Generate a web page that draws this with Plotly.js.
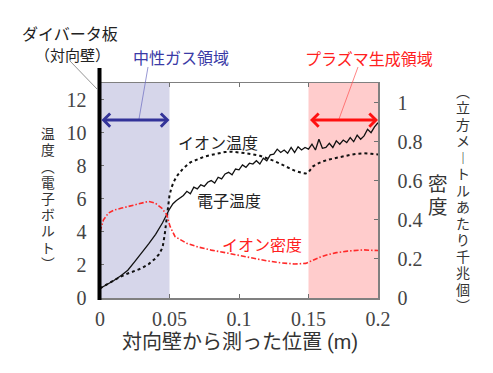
<!DOCTYPE html>
<html>
<head>
<meta charset="utf-8">
<script src="https://cdn.plot.ly/plotly-3.0.1.min.js"></script>
<style>html,body{margin:0;padding:0;background:#fff;}#chart{width:493px;height:373px;}</style>
</head>
<body>
<div id="chart"></div>
<script>
// ---- data ----
const xTe = [0,0.005,0.01,0.015,0.02,0.025,0.03,0.035,0.04,0.045,0.05,0.0525,0.055,0.0575,0.06,0.0625,0.065,0.0675,0.07,0.0725,0.075,0.0775,0.08,0.0825,0.085,0.0875,0.09,0.0925,0.095,0.0975,0.1,0.1025,0.105,0.1075,0.11,0.1125,0.115,0.1175,0.12,0.1225,0.125,0.1275,0.13,0.1325,0.135,0.1375,0.14,0.1425,0.145,0.1475,0.15,0.1525,0.155,0.1575,0.16,0.1625,0.165,0.1675,0.17,0.1725,0.175,0.1775,0.18,0.1825,0.185,0.1875,0.19,0.1925,0.195,0.1975,0.2];
const electronTemp = [0.58,0.8,1.06,1.35,1.68,2.2,2.7,3.27,3.85,4.55,5.38,5.7,5.9,6.05,6.2,6.45,6.3,6.7,6.6,6.85,6.75,7.0,7.1,6.95,7.3,7.2,7.5,7.6,7.45,7.8,7.75,8.05,7.9,8.15,8.1,8.3,8.1,8.45,8.3,8.65,8.7,9.0,8.8,8.95,8.75,9.1,8.8,9.15,8.95,9.1,9.0,9.3,8.95,9.6,9.05,9.1,9.35,9.1,9.5,9.3,9.55,9.4,9.7,9.45,9.85,9.6,9.8,10.2,10.0,10.35,10.6];
const xTi = [0,0.005,0.01,0.015,0.02,0.025,0.03,0.035,0.04,0.0425,0.045,0.0465,0.0475,0.0485,0.05,0.0515,0.0535,0.056,0.06,0.065,0.07,0.075,0.08,0.085,0.09,0.095,0.1,0.105,0.11,0.115,0.12,0.125,0.13,0.135,0.14,0.145,0.148,0.15,0.153,0.156,0.16,0.165,0.17,0.175,0.18,0.185,0.19,0.195,0.2];
const ionTemp = [0.58,0.82,1.07,1.3,1.48,1.64,1.8,2.05,2.4,2.65,3.05,3.8,4.5,5.3,6.2,6.7,7.1,7.45,7.85,8.2,8.4,8.55,8.65,8.75,8.83,8.85,8.82,8.75,8.68,8.6,8.45,8.3,8.1,7.9,7.7,7.57,7.53,7.6,7.95,8.1,8.25,8.38,8.48,8.57,8.65,8.72,8.75,8.72,8.68];
const xNi = [0,0.001,0.0025,0.006,0.01,0.0156,0.02,0.0252,0.03,0.0348,0.0396,0.0444,0.048,0.0504,0.054,0.06,0.0624,0.07,0.08,0.09,0.1,0.11,0.12,0.13,0.14,0.148,0.152,0.158,0.163,0.17,0.178,0.185,0.19,0.195,0.2];
const ionDensity = [0.34,0.36,0.40,0.434,0.45,0.46,0.467,0.477,0.485,0.494,0.486,0.46,0.426,0.366,0.314,0.289,0.28,0.262,0.245,0.232,0.218,0.205,0.19,0.18,0.174,0.177,0.19,0.208,0.22,0.232,0.24,0.245,0.246,0.244,0.243];

const xTickVals = [0,0.05,0.1,0.15,0.2];
const xTickText = ['0','0.05','0.1','0.15','0.2'];
const yTickVals = [0,2,4,6,8,10,12];
const y2TickVals = [0,0.2,0.4,0.6,0.8,1];
const y2TickText = ['0','0.2','0.4','0.6','0.8','1'];

const neutralRegion = [0,0.05];
const plasmaRegion = [0.15,0.2];
const arrowLevel = 10.76;

const xTitle = '対向壁から測った位置 (m)';
const leftTitle = ['温','度','︵','電','子','ボ','ル','ト','︶'];
const rightTitleBig = ['密','度'];
const rightTitleSmall = ['︵','立','方','メ','︱','ト','ル','あ','た','り','千','兆','個','︶'];

// ---- layout helpers (pixel -> paper) ----
const L = 100, R = 378, T = 83, B = 298;
const px = x => (x - L) / (R - L);
const py = y => (B - y) / (B - T);
const CJK = 'Noto Sans CJK JP';
const CJK_TIGHT = 'Roboto, Noto Sans CJK JP';
const SERIF = 'Liberation Serif, Times New Roman, DejaVu Serif, serif';

const annotations = [];
function label(text, x, y, size, color, family) {
  annotations.push({text: text, xref: 'paper', yref: 'paper', x: px(x), y: py(y),
    xanchor: 'center', yanchor: 'middle', showarrow: false, borderpad: 0,
    font: {family: family || CJK, size: size, color: color}});
}
function vlabel(chars, x, yCenter, step, size, color) {
  const n = chars.length;
  chars.forEach((c, i) => label(c, x, yCenter + (i - (n - 1) / 2) * step, size, color, CJK_TIGHT));
}

label('ダイバータ板', 70, 33, 16, '#222');
label('（対向壁）', 72, 54, 15, '#222');
label('中性ガス領域', 181, 57, 16, '#3a3aa6');
label('プラズマ生成領域', 369, 58, 16, '#ff2020');
label('イオン温度', 218, 142, 16, '#222');
label('電子温度', 229, 200, 16, '#222');
label('イオン密度', 262, 244, 16, '#ff2020');
label(xTitle, 240, 342, 20, '#333', CJK_TIGHT);
vlabel(leftTitle, 48, 199, 16.2, 13.8, '#333');
vlabel(rightTitleBig, 438, 196, 23, 19.5, '#333');
vlabel(rightTitleSmall, 463, 199, 16.5, 14, '#333');

annotations.push({x: neutralRegion[1], y: arrowLevel, ax: neutralRegion[0], ay: arrowLevel,
  xref: 'x', yref: 'y', axref: 'x', ayref: 'y', text: '', showarrow: true,
  arrowhead: 4, startarrowhead: 4, arrowside: 'end+start', arrowwidth: 3, arrowsize: 0.85, startarrowsize: 0.85,
  arrowcolor: '#333399', standoff: 0, startstandoff: 0});
annotations.push({x: plasmaRegion[1], y: arrowLevel, ax: plasmaRegion[0], ay: arrowLevel,
  xref: 'x', yref: 'y', axref: 'x', ayref: 'y', text: '', showarrow: true,
  arrowhead: 4, startarrowhead: 4, arrowside: 'end+start', arrowwidth: 3, arrowsize: 0.85, startarrowsize: 0.85,
  arrowcolor: '#ff1010', standoff: 0, startstandoff: 0});

const shapes = [
  {type: 'rect', xref: 'x', yref: 'paper', x0: neutralRegion[0], x1: neutralRegion[1], y0: 0, y1: 1,
   fillcolor: '#d6d6ea', line: {width: 0}, layer: 'below'},
  {type: 'rect', xref: 'x', yref: 'paper', x0: plasmaRegion[0], x1: plasmaRegion[1], y0: 0, y1: 1,
   fillcolor: '#ffcccc', line: {width: 0}, layer: 'below'},
  {type: 'line', xref: 'paper', yref: 'paper', x0: px(99.5), x1: px(99.5), y0: py(300), y1: py(68),
   line: {color: '#000', width: 4}},
  {type: 'line', xref: 'paper', yref: 'paper', x0: px(70), y0: py(61), x1: px(97), y1: py(89),
   line: {color: '#666', width: 0.7}},
  {type: 'line', xref: 'paper', yref: 'paper', x0: px(148), y0: py(67), x1: px(139), y1: py(119),
   line: {color: '#6a6ac0', width: 0.7}},
  {type: 'line', xref: 'paper', yref: 'paper', x0: px(358), y0: py(67), x1: px(339), y1: py(119),
   line: {color: '#ff5050', width: 0.7}}
];

const traces = [
  {x: xTi, y: ionTemp, type: 'scatter', mode: 'lines', name: 'イオン温度',
   line: {color: '#111', width: 2, dash: 'dot'}, hoverinfo: 'skip'},
  {x: xTe, y: electronTemp, type: 'scatter', mode: 'lines', name: '電子温度',
   line: {color: '#111', width: 1.3}, hoverinfo: 'skip'},
  {x: xNi, y: ionDensity, type: 'scatter', mode: 'lines', name: 'イオン密度', yaxis: 'y2',
   line: {color: '#ff2a2a', width: 1.6, dash: '5px,2px,1.5px,2px'}, hoverinfo: 'skip'}
];

function axisBase() {
  return {showgrid: false, zeroline: false, showline: true, linecolor: '#808080', linewidth: 1.5,
    ticks: 'inside', ticklen: 4, tickcolor: '#707070', tickwidth: 1,
    tickfont: {family: SERIF, size: 20, color: '#444'}};
}

const layout = {
  width: 493, height: 373,
  margin: {l: L, r: 493 - R, t: T, b: 373 - B, pad: 0},
  paper_bgcolor: '#fff', plot_bgcolor: 'rgba(0,0,0,0)',
  showlegend: false,
  font: {family: SERIF},
  xaxis: Object.assign(axisBase(), {range: [0, 0.2], tickmode: 'array', tickvals: xTickVals, ticktext: xTickText,
    mirror: 'ticks', ticklabelstandoff: 2}),
  yaxis: Object.assign(axisBase(), {range: [0, 13], tickmode: 'array', tickvals: yTickVals,
    ticklabelstandoff: 8}),
  yaxis2: Object.assign(axisBase(), {range: [0, 1.1], overlaying: 'y', side: 'right', tickmode: 'array',
    tickvals: y2TickVals, ticktext: y2TickText, ticklabelstandoff: 14}),
  shapes: shapes,
  annotations: annotations
};

Plotly.newPlot('chart', traces, layout, {displayModeBar: false, staticPlot: true});
</script>
</body>
</html>
